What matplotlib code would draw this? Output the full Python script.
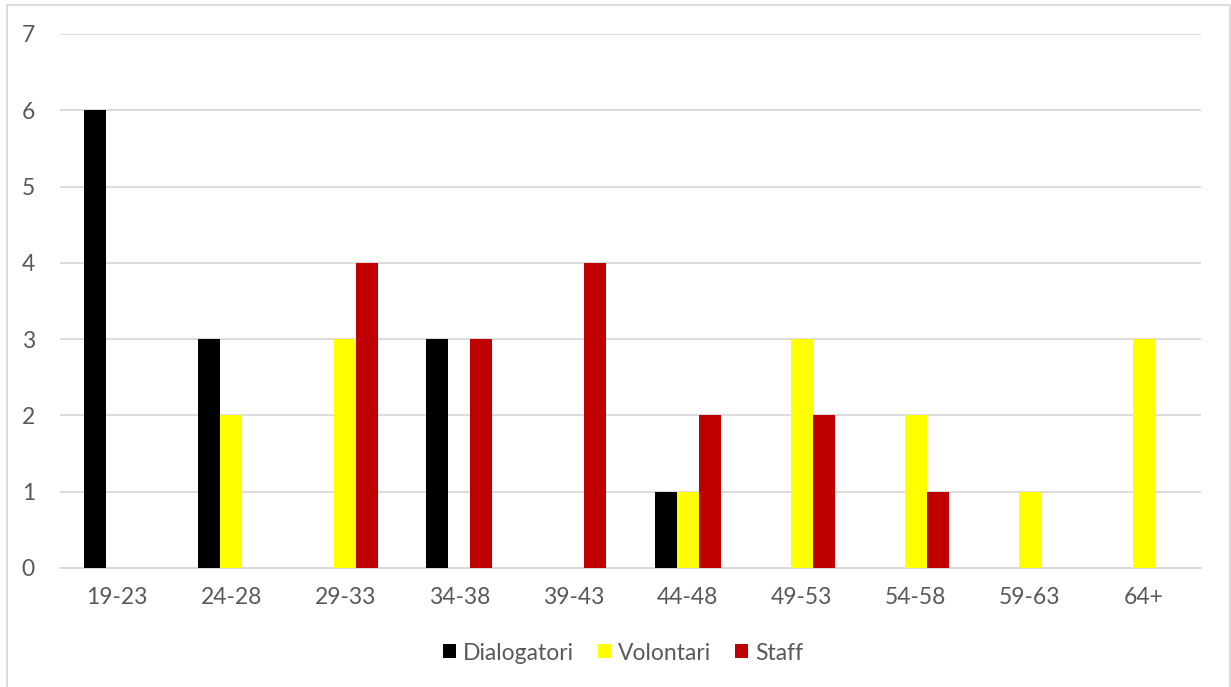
import numpy as np
import matplotlib.pyplot as plt
from matplotlib.lines import Line2D
from matplotlib.patches import Patch

# Data
AGE_GROUPS = ['19-23', '24-28', '29-33', '34-38', '39-43',
              '44-48', '49-53', '54-58', '59-63', '64+']
DIALOGATORI = [6, 3, 0, 3, 0, 1, 0, 0, 0, 0]
VOLONTARI = [0, 2, 3, 0, 0, 1, 3, 2, 1, 3]
STAFF = [0, 0, 4, 3, 4, 2, 2, 1, 0, 0]

SERIES = [('Dialogatori', DIALOGATORI, '#000000'),
          ('Volontari', VOLONTARI, '#FFFF00'),
          ('Staff', STAFF, '#C00000')]

plt.rcParams['font.family'] = ['Lato', 'DejaVu Sans']
TEXT_COLOR = '#595959'
GRID_COLOR = '#D9D9D9'
FS = 16.5

W, H = 1231, 687
fig = plt.figure(figsize=(W / 100, H / 100), dpi=100)
ax = fig.add_axes([60 / W, 1 - 568 / H, (1201 - 60) / W, (568 - 34) / H])

x = np.arange(len(AGE_GROUPS))
bar_w = 0.193
for i, (name, vals, col) in enumerate(SERIES):
    ax.bar(x + (i - 1) * bar_w, vals, width=bar_w, color=col, label=name,
           zorder=3)

ax.set_xlim(-0.5, len(AGE_GROUPS) - 0.5)
ax.set_ylim(0, 7)
ax.set_yticks(range(0, 8))
ax.set_xticks(x)
ax.set_xticklabels(AGE_GROUPS)
ax.yaxis.grid(True, color=GRID_COLOR, linewidth=1.3, zorder=0)
ax.set_axisbelow(True)
for s in ['top', 'right', 'left']:
    ax.spines[s].set_visible(False)
ax.spines['bottom'].set_color(GRID_COLOR)
ax.spines['bottom'].set_linewidth(1.3)
ax.tick_params(axis='both', length=0, labelsize=FS, colors=TEXT_COLOR)
ax.tick_params(axis='x', pad=14)
ax.tick_params(axis='y', pad=18)

handles = [Patch(facecolor=c, edgecolor='none') for _, _, c in SERIES]
fig.legend(handles, [n for n, _, _ in SERIES], loc='center',
           bbox_to_anchor=(623 / W, 1 - 653 / H), ncol=3, frameon=False,
           fontsize=FS, labelcolor=TEXT_COLOR, handlelength=0.57,
           handleheight=0.57, handletextpad=0.3, columnspacing=1.05)

# outer chart border
bx = [7 / W, 7 / W, 1230 / W, 1230 / W]
by = [0, 1 - 5 / H, 1 - 5 / H, 0]
fig.add_artist(Line2D(bx, by, transform=fig.transFigure, color=GRID_COLOR,
                      linewidth=1.3))

fig.savefig('out.png', dpi=100)
